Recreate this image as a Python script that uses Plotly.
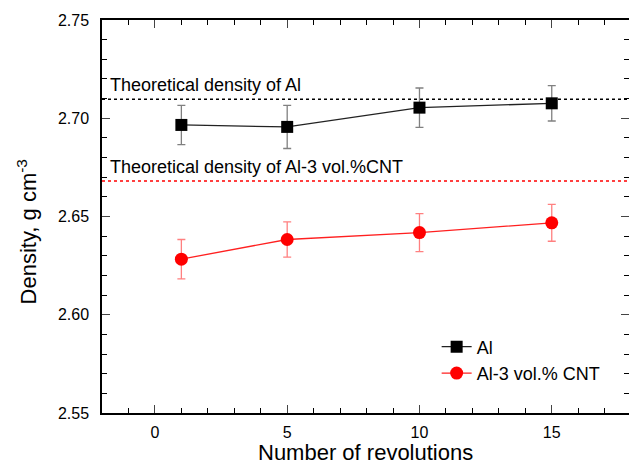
import plotly.graph_objects as go

revolutions = [1, 5, 10, 15]
al_density = [2.6966, 2.6956, 2.7054, 2.7076]
al_err = [0.010, 0.011, 0.010, 0.009]
cnt_density = [2.6283, 2.6383, 2.6418, 2.6468]
cnt_err = [0.010, 0.009, 0.0097, 0.0094]
theo_al = 2.7097
theo_cnt = 2.6681
x_range = [-2, 17.92]

font = "Liberation Sans, Arial, sans-serif"

fig = go.Figure()
# theoretical lines
fig.add_trace(go.Scatter(x=x_range, y=[theo_al, theo_al], mode="lines",
                         line=dict(color="black", dash="dot", width=1.5),
                         showlegend=False, hoverinfo="skip"))
fig.add_trace(go.Scatter(x=x_range, y=[theo_cnt, theo_cnt], mode="lines",
                         line=dict(color="red", dash="dot", width=1.5),
                         showlegend=False, hoverinfo="skip"))

fig.add_trace(go.Scatter(x=revolutions, y=al_density, mode="lines+markers", name="Al",
                         line=dict(color="#222222", width=1.3),
                         marker=dict(symbol="square", size=12, color="black"),
                         error_y=dict(type="data", array=al_err, color="#808080",
                                      thickness=1.3, width=4)))
fig.add_trace(go.Scatter(x=revolutions, y=cnt_density, mode="lines+markers",
                         name="Al-3 vol.% CNT",
                         line=dict(color="#ff2020", width=1.3),
                         marker=dict(symbol="circle", size=13, color="red"),
                         error_y=dict(type="data", array=cnt_err, color="#ff8080",
                                      thickness=1.3, width=4)))

fig.add_annotation(x=0.012, xref="paper", y=theo_al, yref="y", yshift=14,
                   text="Theoretical density of Al", showarrow=False,
                   xanchor="left", font=dict(size=18, color="black", family=font))
fig.add_annotation(x=0.012, xref="paper", y=theo_cnt, yref="y", yshift=14,
                   text="Theoretical density of Al-3 vol.%CNT", showarrow=False,
                   xanchor="left", font=dict(size=18, color="black", family=font))

# axis titles
fig.add_annotation(x=-0.142, xref="paper", y=0.46, yref="paper",
                   text="Density, g cm<sup>-3</sup>", textangle=-90, showarrow=False,
                   xanchor="center", yanchor="middle",
                   font=dict(size=22, color="black", family=font))
fig.add_annotation(x=0.5, xref="paper", y=-0.1, yref="paper",
                   text="Number of revolutions", showarrow=False,
                   xanchor="center", yanchor="middle",
                   font=dict(size=22, color="black", family=font))

fig.update_layout(
    width=629, height=465,
    margin=dict(l=102, r=0, t=20, b=52),
    plot_bgcolor="white", paper_bgcolor="white",
    font=dict(family=font, color="black", size=16),
    legend=dict(x=0.635, y=0.215, xanchor="left", yanchor="top",
                bgcolor="rgba(0,0,0,0)", font=dict(size=18), tracegroupgap=0),
    xaxis=dict(range=x_range, tickvals=[0, 5, 10, 15], ticks="inside", ticklen=8,
               showline=True, linecolor="black", linewidth=1.5, mirror="allticks",
               showgrid=False, zeroline=False, tickfont=dict(size=16),
               ticklabelstandoff=4, automargin=False,
               minor=dict(dtick=1, tick0=0, ticks="inside", ticklen=5, tickcolor="black")),
    yaxis=dict(range=[2.55, 2.75], tickvals=[2.55, 2.60, 2.65, 2.70, 2.75],
               tickformat=".2f", ticks="inside", ticklen=8,
               showline=True, linecolor="black", linewidth=1.5, mirror="allticks",
               showgrid=False, zeroline=False, tickfont=dict(size=16),
               ticklabelstandoff=8, automargin=False,
               minor=dict(dtick=0.01, tick0=2.55, ticks="inside", ticklen=5, tickcolor="black")),
)

fig.write_html("out.html")
